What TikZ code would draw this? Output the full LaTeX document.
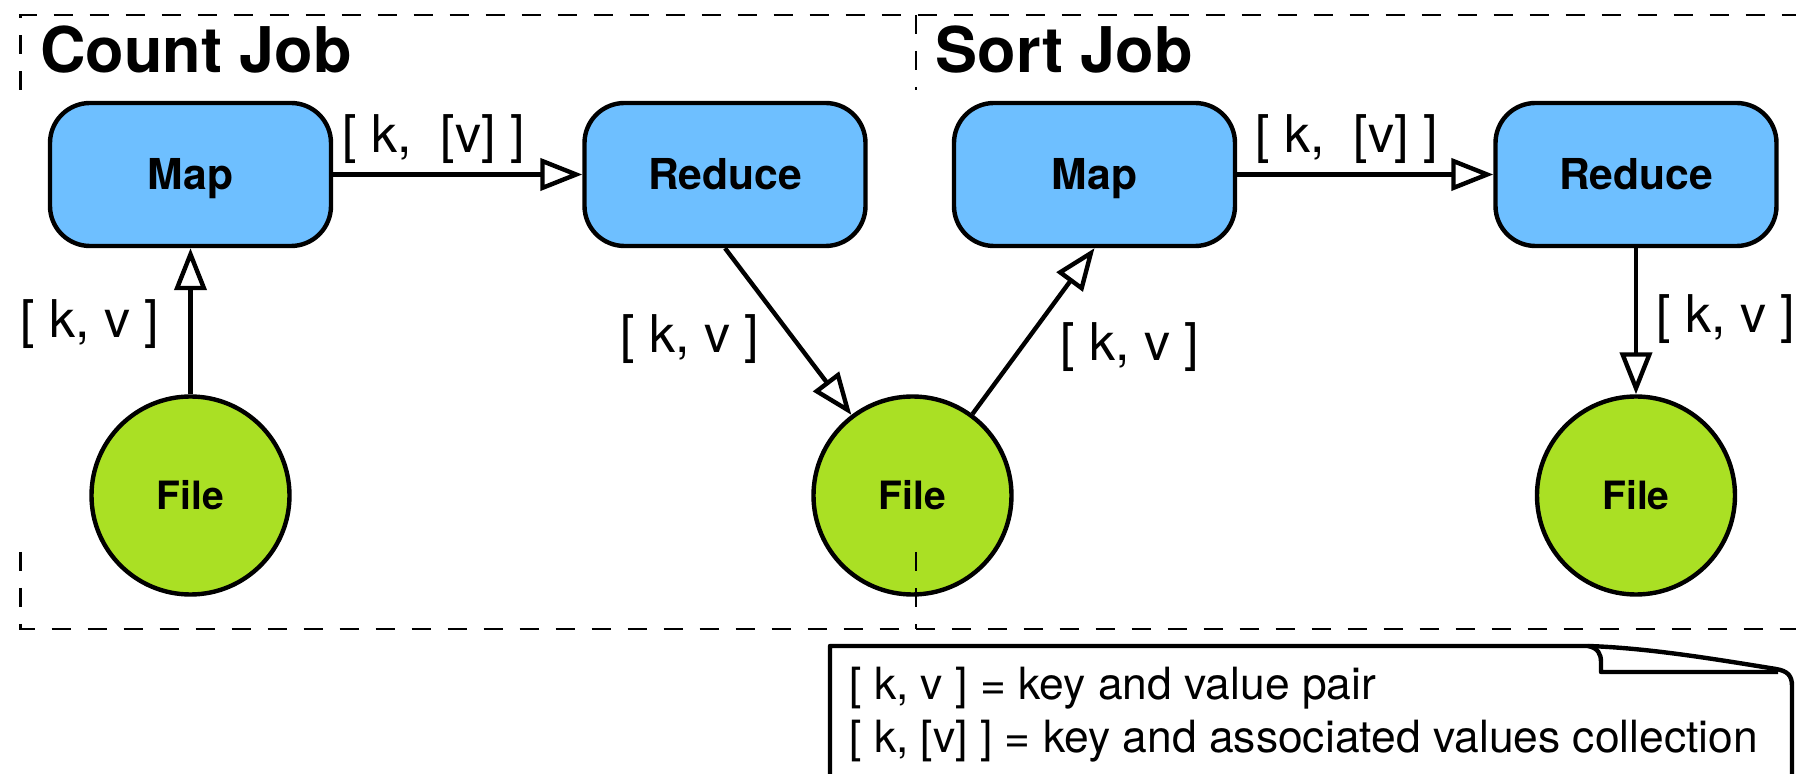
\documentclass[tikz,border=0pt]{standalone}
\usepackage{fontspec}
\setmainfont{TeX Gyre Heros}
\usetikzlibrary{arrows.meta}
\definecolor{mapblue}{RGB}{110,191,255}
\definecolor{filegreen}{RGB}{170,224,36}
\tikzset{
  jobbox/.style={draw, line width=2.2pt, fill=mapblue, rounded corners=20pt,
    minimum width=140.5pt, minimum height=71.5pt, inner sep=0pt,
    text height=15.3pt, text depth=0pt,
    font=\bfseries\fontsize{21.3pt}{25pt}\selectfont},
  store/.style={circle, draw, line width=2.2pt, fill=filegreen, minimum size=99pt,
    inner sep=0pt, text height=14pt, text depth=0pt,
    font=\bfseries\fontsize{19.5pt}{23pt}\selectfont},
  flow/.style={line width=2.2pt, -{Triangle[open, length=21pt, width=16pt]}},
  lbl/.style={anchor=base west, inner sep=0pt, font=\fontsize{26pt}{30pt}\selectfont},
  title/.style={anchor=base west, inner sep=0pt, font=\bfseries\fontsize{31.5pt}{36pt}\selectfont},
  notetext/.style={anchor=base west, inner sep=0pt, font=\fontsize{22.2pt}{26.5pt}\selectfont},
  frame/.style={dash pattern=on 9.5pt off 8.5pt, line width=1.3pt},
}
\begin{document}
\begin{tikzpicture}[x=0.5pt, y=-0.5pt]
\useasboundingbox (0,0) rectangle (1796,774);
\clip (0,0) rectangle (1796,774);

% job titles
\node[title] (tcount) at (40,73) {Count Job};
\node[title] (tsort) at (935.5,73) {Sort Job};

% count job
\node[jobbox] (m1) at (190.5,174.5) {Map};
\node[jobbox] (r1) at (725,174.5) {Reduce};
\node[store] (f1) at (190.5,495.5) {File};
% shared intermediate file
\node[store] (f2) at (912.5,495.5) {File};
% sort job
\node[jobbox] (m2) at (1094.5,174.5) {Map};
\node[jobbox] (r2) at (1636,174.5) {Reduce};
\node[store] (f3) at (1636,495.5) {File};

% data flow
\draw[flow] (f1) -- (m1);
\draw[flow] (m1) -- (r1);
\draw[flow] (r1.south) -- (f2);
\draw[flow] (f2) -- (m2.south);
\draw[flow] (m2) -- (r2);
\draw[flow] (r2) -- (f3);

% edge labels
\node[lbl] (l1) at (20,338) {[ k, v ]};
\node[lbl] (l2) at (342,153) {[ k,\ \ [v] ]};
\node[lbl] (l3) at (620,353) {[ k, v ]};
\node[lbl] (l4) at (1060,361) {[ k, v ]};
\node[lbl] (l5) at (1255,153) {[ k,\ \ [v] ]};
\node[lbl] (l6) at (1656,333) {[ k, v ]};

% job frames
\draw[frame] (20.5,90) -- (20.5,15) -- (1800,15);
\draw[frame] (20.5,552) -- (20.5,629) -- (1800,629);
\draw[frame] (916,15) -- (916,90);
\draw[frame] (916,552) -- (916,629);

% legend note with folded corner
\draw[line width=2.2pt, fill=white, line join=round]
  (830,800) -- (830,646) -- (1588,646)
  .. controls (1650,648) and (1720,660) .. (1776,669)
  .. controls (1788,671) and (1792,676) .. (1792,686) -- (1792,800);
\draw[line width=2.2pt, line join=round]
  (1588,646) .. controls (1598,648) and (1601,654) .. (1601,662)
  -- (1601,672) -- (1778,672);
\node[notetext] (n1) at (849,700) {[ k, v ] = key and value pair};
\node[notetext] (n2) at (849,753) {[ k, [v] ] = key and associated values collection};
\end{tikzpicture}
\end{document}
